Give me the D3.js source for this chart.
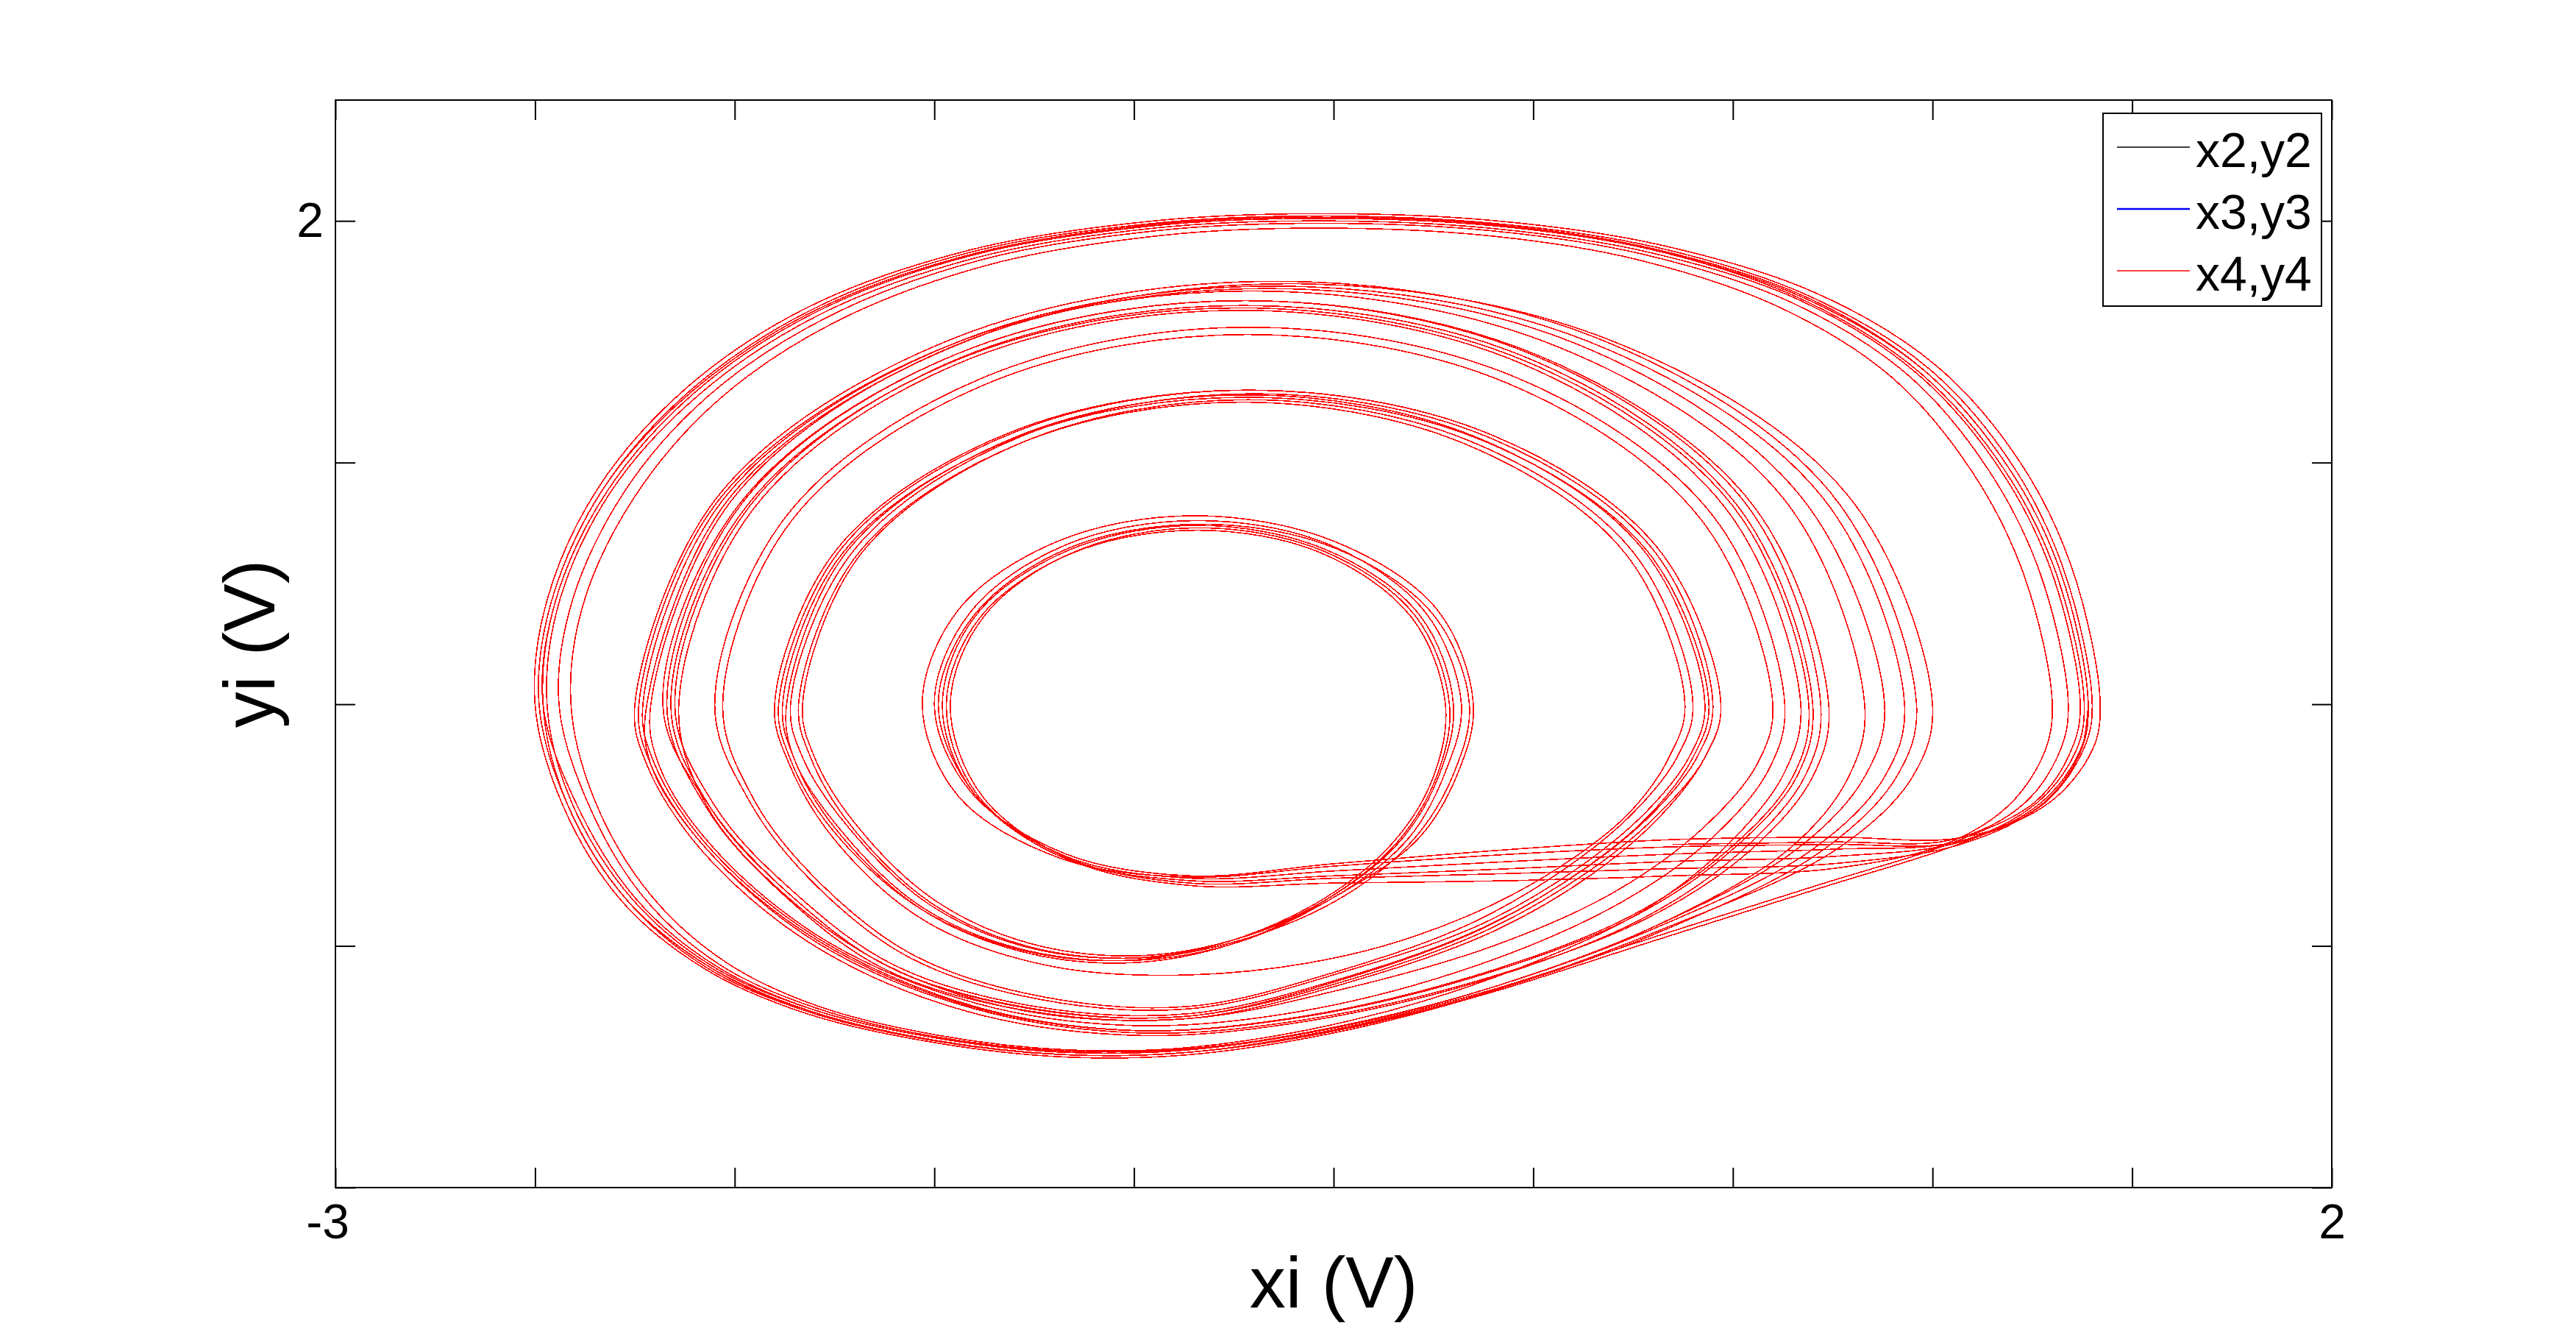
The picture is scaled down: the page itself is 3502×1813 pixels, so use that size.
<!DOCTYPE html>
<html>
<head>
<meta charset="utf-8">
<script src="https://cdn.jsdelivr.net/npm/d3@7"></script>
<style>
  body { margin: 0; background: #fff; }
  text { font-family: "Liberation Sans", Arial, Helvetica, sans-serif; }
</style>
</head>
<body>
<div id="chart"></div>
<script>
// synchronized trajectory (xi, yi), one loop group per line
// episode = reinjection -> inner loop -> growing loops -> outer loop(s)
var ep1 = [
  [1.39, 0], [1.37, -0.20], [1.27, -0.42], [1.06, -0.57], [0.75, -0.60], [0.35, -0.62], [-0.05, -0.65], [-0.5, -0.69], [-0.86, -0.72], [-1.17, -0.63], [-1.40, -0.37], [-1.48, 0],
  [-1.395, 0.37], [-1.16, 0.64], [-0.84, 0.74], [-0.52, 0.64], [-0.285, 0.37], [-0.20, 0],
  [-0.235, -0.29], [-0.33, -0.56], [-0.50, -0.79], [-0.74, -0.97], [-1.0, -1.05], [-1.28, -1.0], [-1.52, -0.82], [-1.72, -0.50], [-1.83, -0.22], [-1.86, 0],
  [-1.70, 0.64], [-1.28, 1.11], [-0.70, 1.285], [-0.12, 1.11], [0.30, 0.64], [0.45, 0],
  [0.41, -0.22], [0.30, -0.45], [0.13, -0.68], [-0.12, -0.92], [-0.45, -1.12], [-0.86, -1.28], [-1.25, -1.25], [-1.6, -1.08], [-1.85, -0.78], [-2.05, -0.42], [-2.15, 0],
  [-1.96, 0.825], [-1.44, 1.43], [-0.725, 1.65], [-0.01, 1.43], [0.51, 0.825], [0.70, 0],
  [0.66, -0.3], [0.5, -0.6], [0.25, -0.88], [-0.15, -1.13], [-0.6, -1.3], [-1.0, -1.35], [-1.4, -1.25], [-1.78, -0.98], [-2.06, -0.6], [-2.2, -0.25], [-2.23, 0],
  [-2.02, 0.865], [-1.44, 1.50], [-0.65, 1.73], [0.14, 1.50], [0.72, 0.865], [0.93, 0],
  [0.88, -0.3], [0.7, -0.6], [0.3, -0.93], [-0.1, -1.17], [-0.47, -1.33], [-0.86, -1.43], [-1.17, -1.44], [-1.5, -1.38], [-1.81, -1.26], [-2.05, -1.08], [-2.25, -0.8], [-2.40, -0.4], [-2.48, 0],
  [-2.45, 0.42], [-2.32, 0.88], [-2.10, 1.29], [-1.80, 1.62], [-1.40, 1.86], [-0.95, 1.98], [-0.55, 2.01], [-0.10, 1.98], [0.30, 1.88], [0.68, 1.68], [0.98, 1.38], [1.19, 0.98], [1.32, 0.55], [1.39, 0]
];
var ep2 = [
  [1.37, -0.20], [1.27, -0.42], [1.07, -0.58], [0.75, -0.66], [0.35, -0.68], [-0.05, -0.70], [-0.5, -0.72], [-0.86, -0.74], [-1.16, -0.64], [-1.39, -0.38], [-1.47, 0],
  [-1.385, 0.36], [-1.155, 0.625], [-0.84, 0.72], [-0.53, 0.625], [-0.305, 0.36], [-0.22, 0],
  [-0.25, -0.30], [-0.35, -0.57], [-0.52, -0.80], [-0.76, -0.98], [-1.02, -1.06], [-1.30, -1.01], [-1.55, -0.83], [-1.76, -0.51], [-1.86, -0.23], [-1.89, 0],
  [-1.73, 0.65], [-1.30, 1.125], [-0.71, 1.30], [-0.12, 1.125], [0.31, 0.65], [0.47, 0],
  [0.43, -0.22], [0.32, -0.46], [0.15, -0.70], [-0.10, -0.94], [-0.44, -1.14], [-0.86, -1.30], [-1.26, -1.27], [-1.62, -1.10], [-1.87, -0.80], [-2.07, -0.43], [-2.17, 0],
  [-1.98, 0.835], [-1.45, 1.445], [-0.725, 1.67], [0.0, 1.445], [0.53, 0.835], [0.72, 0],
  [0.68, -0.3], [0.52, -0.61], [0.27, -0.89], [-0.14, -1.15], [-0.6, -1.32], [-1.0, -1.37], [-1.42, -1.27], [-1.80, -1.0], [-2.08, -0.61], [-2.22, -0.25], [-2.25, 0],
  [-2.035, 0.875], [-1.45, 1.515], [-0.645, 1.75], [0.16, 1.515], [0.745, 0.875], [0.96, 0],
  [0.91, -0.3], [0.72, -0.61], [0.32, -0.94], [-0.09, -1.18], [-0.46, -1.34], [-0.86, -1.44], [-1.18, -1.45], [-1.51, -1.39], [-1.82, -1.27], [-2.07, -1.09], [-2.27, -0.81], [-2.42, -0.41], [-2.49, 0],
  [-2.46, 0.42], [-2.33, 0.89], [-2.11, 1.30], [-1.81, 1.63], [-1.41, 1.87], [-0.95, 1.99], [-0.55, 2.02], [-0.10, 1.99], [0.31, 1.89], [0.69, 1.69], [0.99, 1.39], [1.20, 0.99], [1.33, 0.55], [1.40, 0],
  [1.38, -0.18], [1.28, -0.41], [1.08, -0.57], [0.72, -0.76], [0.30, -0.98], [-0.1, -1.19], [-0.47, -1.35], [-0.86, -1.45], [-1.17, -1.46], [-1.50, -1.40], [-1.82, -1.28], [-2.07, -1.10], [-2.28, -0.82], [-2.43, -0.42], [-2.50, 0],
  [-2.47, 0.43], [-2.34, 0.90], [-2.12, 1.31], [-1.82, 1.64], [-1.41, 1.88], [-0.95, 2.0], [-0.54, 2.03], [-0.09, 2.0], [0.32, 1.90], [0.71, 1.70], [1.01, 1.40], [1.22, 1.0], [1.35, 0.56], [1.42, 0]
];
var ep3 = [
  [1.40, -0.19], [1.29, -0.41], [1.08, -0.55], [0.75, -0.55], [0.35, -0.56], [-0.05, -0.60], [-0.5, -0.66], [-0.86, -0.71], [-1.17, -0.62], [-1.41, -0.36], [-1.50, 0],
  [-1.41, 0.38], [-1.17, 0.66], [-0.84, 0.76], [-0.51, 0.66], [-0.27, 0.38], [-0.18, 0],
  [-0.22, -0.28], [-0.31, -0.55], [-0.48, -0.78], [-0.72, -0.96], [-0.98, -1.04], [-1.26, -0.99], [-1.50, -0.81], [-1.70, -0.49], [-1.80, -0.22], [-1.83, 0],
  [-1.68, 0.63], [-1.27, 1.09], [-0.715, 1.26], [-0.16, 1.09], [0.25, 0.63], [0.40, 0],
  [0.36, -0.22], [0.25, -0.45], [0.08, -0.68], [-0.16, -0.91], [-0.48, -1.10], [-0.86, -1.25], [-1.23, -1.21], [-1.55, -1.04], [-1.78, -0.75], [-1.95, -0.40], [-2.03, 0],
  [-1.855, 0.765], [-1.37, 1.325], [-0.715, 1.53], [-0.06, 1.325], [0.42, 0.765], [0.60, 0],
  [0.56, -0.25], [0.42, -0.52], [0.20, -0.78], [-0.10, -1.0], [-0.48, -1.18], [-0.86, -1.30], [-1.27, -1.27], [-1.62, -1.08], [-1.88, -0.78], [-2.07, -0.42], [-2.14, 0],
  [-1.95, 0.815], [-1.44, 1.41], [-0.735, 1.63], [-0.03, 1.41], [0.48, 0.815], [0.67, 0],
  [0.63, -0.28], [0.50, -0.56], [0.28, -0.85], [-0.08, -1.12], [-0.46, -1.31], [-0.86, -1.42], [-1.17, -1.43], [-1.49, -1.37], [-1.79, -1.25], [-2.02, -1.07], [-2.21, -0.79], [-2.35, -0.4], [-2.41, 0],
  [-2.38, 0.41], [-2.25, 0.86], [-2.04, 1.26], [-1.75, 1.58], [-1.36, 1.82], [-0.93, 1.94], [-0.56, 1.97], [-0.12, 1.94], [0.26, 1.84], [0.62, 1.64], [0.90, 1.35], [1.10, 0.96], [1.23, 0.53], [1.30, 0]
];
var ep4 = [
  [1.28, -0.2], [1.19, -0.42], [1.03, -0.58], [0.75, -0.68], [0.35, -0.71], [-0.05, -0.73], [-0.5, -0.74], [-0.86, -0.75], [-1.15, -0.65], [-1.38, -0.38], [-1.46, 0],
  [-1.375, 0.365], [-1.15, 0.63], [-0.835, 0.73], [-0.52, 0.63], [-0.295, 0.365], [-0.21, 0],
  [-0.24, -0.29], [-0.34, -0.57], [-0.51, -0.80], [-0.75, -0.99], [-1.01, -1.07], [-1.29, -1.02], [-1.54, -0.84], [-1.75, -0.51], [-1.85, -0.23], [-1.88, 0],
  [-1.725, 0.635], [-1.30, 1.10], [-0.72, 1.27], [-0.14, 1.10], [0.285, 0.635], [0.44, 0],
  [0.40, -0.22], [0.29, -0.46], [0.12, -0.69], [-0.13, -0.93], [-0.46, -1.13], [-0.86, -1.29], [-1.25, -1.26], [-1.61, -1.09], [-1.86, -0.79], [-2.06, -0.43], [-2.16, 0],
  [-1.97, 0.82], [-1.45, 1.42], [-0.735, 1.64], [-0.02, 1.42], [0.50, 0.82], [0.69, 0],
  [0.65, -0.3], [0.49, -0.6], [0.24, -0.88], [-0.16, -1.13], [-0.61, -1.3], [-1.01, -1.35], [-1.41, -1.25], [-1.79, -0.98], [-2.07, -0.6], [-2.21, -0.25], [-2.24, 0],
  [-2.035, 0.855], [-1.47, 1.48], [-0.705, 1.71], [0.06, 1.48], [0.625, 0.855], [0.83, 0],
  [0.79, -0.3], [0.64, -0.6], [0.29, -0.93], [-0.1, -1.17], [-0.48, -1.33], [-0.87, -1.43], [-1.18, -1.44], [-1.5, -1.38], [-1.81, -1.26], [-2.06, -1.08], [-2.26, -0.8], [-2.41, -0.4], [-2.47, 0],
  [-2.44, 0.42], [-2.31, 0.88], [-2.09, 1.28], [-1.79, 1.61], [-1.39, 1.85], [-0.95, 1.97], [-0.56, 2.0], [-0.11, 1.97], [0.29, 1.87], [0.67, 1.67], [0.96, 1.37], [1.17, 0.97], [1.30, 0.54], [1.37, 0],
  [1.35, -0.18], [1.26, -0.40], [1.07, -0.56], [0.71, -0.75], [0.29, -0.97], [-0.1, -1.18], [-0.48, -1.34], [-0.86, -1.44], [-1.18, -1.45], [-1.51, -1.39], [-1.82, -1.27], [-2.06, -1.09], [-2.27, -0.81], [-2.42, -0.41], [-2.49, 0],
  [-2.46, 0.42], [-2.33, 0.89], [-2.11, 1.29], [-1.81, 1.62], [-1.40, 1.865], [-0.95, 1.985], [-0.55, 2.015], [-0.10, 1.985], [0.30, 1.885], [0.69, 1.68], [0.98, 1.38], [1.19, 0.98], [1.32, 0.55], [1.39, 0]
];
var ep5 = [
  [1.37, -0.19], [1.27, -0.41], [1.07, -0.57], [0.75, -0.63], [0.35, -0.65], [-0.05, -0.68], [-0.5, -0.71], [-0.86, -0.73], [-1.17, -0.64], [-1.40, -0.37], [-1.49, 0],
  [-1.40, 0.37], [-1.165, 0.645], [-0.83, 0.745], [-0.495, 0.645], [-0.25, 0.37], [-0.16, 0],
  [-0.20, -0.29], [-0.30, -0.56], [-0.47, -0.79], [-0.72, -0.97], [-0.99, -1.05], [-1.27, -1.0], [-1.51, -0.82], [-1.71, -0.50], [-1.81, -0.22], [-1.84, 0],
  [-1.69, 0.625], [-1.285, 1.08], [-0.73, 1.25], [-0.175, 1.08], [0.23, 0.625], [0.38, 0],
  [0.34, -0.22], [0.24, -0.45], [0.07, -0.67], [-0.17, -0.88], [-0.47, -1.04], [-0.86, -1.12], [-1.22, -1.08], [-1.52, -0.90], [-1.74, -0.58], [-1.86, -0.26], [-1.90, 0],
  [-1.74, 0.65], [-1.31, 1.125], [-0.715, 1.30], [-0.12, 1.125], [0.31, 0.65], [0.47, 0],
  [0.43, -0.22], [0.31, -0.46], [0.14, -0.69], [-0.11, -0.93], [-0.44, -1.13], [-0.86, -1.29], [-1.26, -1.26], [-1.61, -1.09], [-1.86, -0.79], [-2.06, -0.43], [-2.18, 0],
  [-1.985, 0.835], [-1.45, 1.445], [-0.72, 1.67], [0.01, 1.445], [0.545, 0.835], [0.74, 0],
  [0.70, -0.3], [0.54, -0.61], [0.28, -0.89], [-0.13, -1.14], [-0.59, -1.31], [-0.99, -1.36], [-1.40, -1.26], [-1.79, -0.99], [-2.07, -0.6], [-2.21, -0.25], [-2.22, 0],
  [-2.005, 0.87], [-1.415, 1.505], [-0.61, 1.74], [0.195, 1.505], [0.785, 0.87], [1.0, 0],
  [0.95, -0.3], [0.76, -0.6], [0.31, -0.94], [-0.09, -1.18], [-0.47, -1.34], [-0.86, -1.44], [-1.17, -1.45], [-1.5, -1.39], [-1.81, -1.27], [-2.06, -1.09], [-2.27, -0.81], [-2.42, -0.41], [-2.48, 0],
  [-2.45, 0.42], [-2.32, 0.88], [-2.10, 1.29], [-1.80, 1.62], [-1.40, 1.86], [-0.95, 1.98], [-0.55, 2.01], [-0.10, 1.98], [0.30, 1.88], [0.68, 1.67], [0.97, 1.37], [1.18, 0.97], [1.31, 0.54], [1.38, 0],
  [1.36, -0.19], [1.26, -0.41], [1.06, -0.57], [0.75, -0.58], [0.35, -0.59]
];
var ep6 = [
  [-0.05, -0.62], [-0.5, -0.67], [-0.86, -0.715], [-1.18, -0.64], [-1.44, -0.38], [-1.53, 0],
  [-1.44, 0.39], [-1.19, 0.675], [-0.85, 0.78], [-0.50, 0.675], [-0.24, 0.39], [-0.15, 0],
  [-0.19, -0.29], [-0.29, -0.56], [-0.49, -0.79], [-0.73, -0.98], [-1.0, -1.06], [-1.29, -1.01], [-1.54, -0.83], [-1.74, -0.51], [-1.85, -0.23], [-1.87, 0],
  [-1.715, 0.64], [-1.29, 1.11], [-0.72, 1.28], [-0.15, 1.11], [0.275, 0.64], [0.43, 0],
  [0.39, -0.22], [0.28, -0.45], [0.11, -0.68], [-0.13, -0.91], [-0.46, -1.10], [-0.86, -1.26], [-1.24, -1.22], [-1.56, -1.05], [-1.79, -0.76], [-1.96, -0.41], [-2.05, 0],
  [-1.87, 0.78], [-1.38, 1.35], [-0.71, 1.56], [-0.04, 1.35], [0.45, 0.78], [0.63, 0],
  [0.59, -0.27], [0.45, -0.55], [0.22, -0.82], [-0.14, -1.08], [-0.58, -1.27], [-0.99, -1.33], [-1.39, -1.24], [-1.77, -0.98], [-2.05, -0.6], [-2.19, -0.25], [-2.21, 0],
  [-2.0, 0.86], [-1.44, 1.49], [-0.665, 1.72], [0.11, 1.49], [0.67, 0.86], [0.88, 0],
  [0.83, -0.3], [0.66, -0.6], [0.29, -0.93], [-0.1, -1.17], [-0.47, -1.33], [-0.86, -1.425], [-1.17, -1.435], [-1.5, -1.375], [-1.80, -1.255], [-2.04, -1.075], [-2.23, -0.795], [-2.37, -0.4], [-2.44, 0],
  [-2.41, 0.41], [-2.28, 0.87], [-2.07, 1.27], [-1.77, 1.60], [-1.38, 1.84], [-0.94, 1.96], [-0.55, 1.99], [-0.11, 1.96], [0.28, 1.86], [0.65, 1.66], [0.94, 1.36], [1.14, 0.97], [1.27, 0.54], [1.34, 0],
  [1.32, -0.19], [1.23, -0.41], [1.05, -0.56], [0.75, -0.57], [0.35, -0.58]
];

var seriesNames = ["x2,y2", "x3,y3", "x4,y4"];
var seriesColors = ["#000000", "#0000ff", "#ff0000"];
var seriesWidths = [1, 1, 1.6];
var legendLineWidths = [1.5, 2.5, 1.5];

var xTickValues = [-3, -2.5, -2, -1.5, -1, -0.5, 0, 0.5, 1, 1.5, 2];
var xTickLabels = ["-3", "", "", "", "", "", "", "", "", "", "2"];
var yTickValues = [-2, -1, 0, 1, 2];
var yTickLabels = ["", "", "", "", "2"];

var width = 3502,
  height = 1813,
  plotLeft = 456,
  plotRight = 3170,
  plotTop = 136,
  plotBottom = 1614,
  tickLen = 27,
  tickFont = 66,
  labelFont = 98;

var trajectory = ep1.concat(ep2, ep3, ep4, ep5, ep6);

var svg = d3.select("#chart")
  .append("svg")
  .attr("width", width)
  .attr("height", height)
  .style("display", "block")
  .style("background", "#fff");

var x = d3.scaleLinear().domain([-3, 2]).range([plotLeft, plotRight]);
var y = d3.scaleLinear().domain([-2, 2.5]).range([plotBottom, plotTop]);

// all three synchronized pairs trace the same path, red drawn last
var line = d3.line()
  .x(function(d) { return x(d[0]); })
  .y(function(d) { return y(d[1]); })
  .curve(d3.curveCatmullRom.alpha(0.5));

svg.selectAll("path.series")
  .data(seriesColors)
  .enter()
  .append("path")
  .attr("class", "series")
  .attr("d", line(trajectory))
  .attr("fill", "none")
  .attr("stroke", function(d) { return d; })
  .attr("stroke-width", function(d, i) { return seriesWidths[i]; })
  .attr("shape-rendering", "crispEdges");

function styleAxis(g) {
  g.select(".domain").remove();
  g.selectAll(".tick line").attr("stroke", "#000").attr("stroke-width", 2);
  g.selectAll(".tick text")
    .attr("fill", "#000")
    .style("font-size", tickFont + "px")
    .style("font-family", "'Liberation Sans', Arial, Helvetica, sans-serif");
}

svg.append("g")
  .attr("transform", "translate(0," + plotBottom + ")")
  .call(d3.axisBottom(x).tickValues(xTickValues)
    .tickFormat(function(d, i) { return xTickLabels[i]; })
    .tickSize(-tickLen).tickSizeOuter(0).tickPadding(22))
  .call(styleAxis)
  .selectAll(".tick text")
  .attr("dx", function(d) { return d < 0 ? -11 : 0; });

svg.append("g")
  .attr("transform", "translate(0," + plotTop + ")")
  .call(d3.axisTop(x).tickValues(xTickValues).tickFormat("")
    .tickSize(-tickLen).tickSizeOuter(0))
  .call(styleAxis);

svg.append("g")
  .attr("transform", "translate(" + plotLeft + ",0)")
  .call(d3.axisLeft(y).tickValues(yTickValues)
    .tickFormat(function(d, i) { return yTickLabels[i]; })
    .tickSize(-tickLen).tickSizeOuter(0).tickPadding(16))
  .call(styleAxis);

svg.append("g")
  .attr("transform", "translate(" + plotRight + ",0)")
  .call(d3.axisRight(y).tickValues(yTickValues).tickFormat("")
    .tickSize(-tickLen).tickSizeOuter(0))
  .call(styleAxis);

// axes box
svg.append("rect")
  .attr("x", plotLeft)
  .attr("y", plotTop)
  .attr("width", plotRight - plotLeft)
  .attr("height", plotBottom - plotTop)
  .attr("fill", "none")
  .attr("stroke", "#000")
  .attr("stroke-width", 2);

// axis labels
svg.append("text")
  .attr("x", (plotLeft + plotRight) / 2)
  .attr("y", 1777)
  .attr("text-anchor", "middle")
  .style("font-size", labelFont + "px")
  .text("xi (V)");

svg.append("text")
  .attr("transform", "translate(373," + (plotTop + plotBottom) / 2 + ") rotate(-90)")
  .attr("text-anchor", "middle")
  .style("font-size", labelFont + "px")
  .text("yi (V)");

// legend
var legendX = 2859, legendY = 154, legendW = 297, legendH = 262, rowH = 84;

var legend = svg.append("g").attr("transform", "translate(" + legendX + "," + legendY + ")");

legend.append("rect")
  .attr("width", legendW)
  .attr("height", legendH)
  .attr("fill", "#fff")
  .attr("stroke", "#000")
  .attr("stroke-width", 2);

var rows = legend.selectAll("g.row")
  .data(seriesNames)
  .enter()
  .append("g")
  .attr("class", "row")
  .attr("transform", function(d, i) { return "translate(0," + (46 + i * rowH) + ")"; });

rows.append("line")
  .attr("x1", 19)
  .attr("x2", 118)
  .attr("stroke", function(d, i) { return seriesColors[i]; })
  .attr("stroke-width", function(d, i) { return legendLineWidths[i]; });

rows.append("text")
  .attr("x", 126)
  .attr("y", 27)
  .style("font-size", tickFont + "px")
  .text(function(d) { return d; });
</script>
</body>
</html>
